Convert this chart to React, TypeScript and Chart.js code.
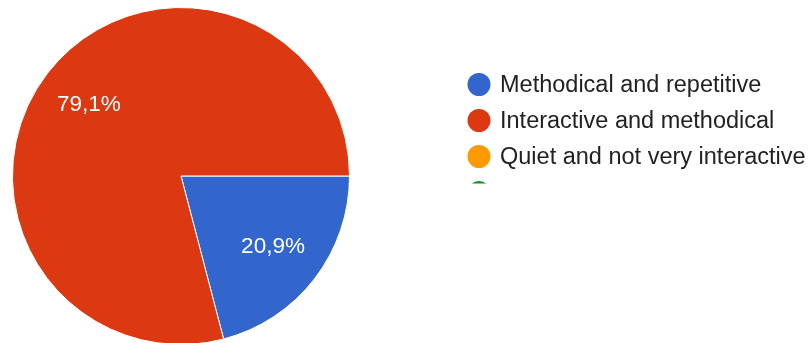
import React, { useEffect, useRef } from "react";
import { Chart, registerables } from "chart.js";

Chart.register(...registerables);

const categories = [
  "Methodical and repetitive",
  "Interactive and methodical",
  "Quiet and not very interactive",
  "Other",
];
const responses = [9, 34, 0, 0];
const sliceColors = ["#3366CC", "#DC3912", "#FF9900", "#109618"];

const FONT = "Arial, 'Liberation Sans', sans-serif";

const sliceLabelPlugin = {
  id: "sliceLabels",
  afterDatasetsDraw(chart: any) {
    const ctx = chart.ctx;
    const meta = chart.getDatasetMeta(0);
    const data = chart.data.datasets[0].data as number[];
    const total = data.reduce((a, b) => a + b, 0);
    ctx.save();
    ctx.fillStyle = "#ffffff";
    ctx.font = `22.5px ${FONT}`;
    ctx.textAlign = "center";
    ctx.textBaseline = "middle";
    meta.data.forEach((arc: any, i: number) => {
      const v = data[i];
      if (!v) return;
      const { x, y, startAngle, endAngle, outerRadius } = arc.getProps(
        ["x", "y", "startAngle", "endAngle", "outerRadius"],
        true
      );
      const mid = (startAngle + endAngle) / 2;
      const r = outerRadius * 0.69;
      const txt = ((v / total) * 100).toFixed(1).replace(".", ",") + "%";
      ctx.fillText(txt, x + Math.cos(mid) * r, y + Math.sin(mid) * r);
    });
    ctx.restore();
  },
};

const LEGEND_CLIP = 183.5;

const sideLegendPlugin = {
  id: "sideLegend",
  afterDraw(chart: any) {
    const ctx = chart.ctx;
    const labels = chart.data.labels as string[];
    const colors = chart.data.datasets[0].backgroundColor as string[];
    ctx.save();
    ctx.beginPath();
    ctx.rect(440, 0, 368, LEGEND_CLIP);
    ctx.clip();
    ctx.font = `23.5px ${FONT}`;
    ctx.textAlign = "left";
    ctx.textBaseline = "alphabetic";
    labels.forEach((lab, i) => {
      const cy = 84.5 + i * 36;
      ctx.beginPath();
      ctx.arc(479, cy, 11.5, 0, Math.PI * 2);
      ctx.fillStyle = colors[i];
      ctx.fill();
      if (cy + 7 < LEGEND_CLIP) {
        ctx.fillStyle = "#222222";
        ctx.fillText(lab, 500, cy + 7);
      }
    });
    ctx.restore();
  },
};

export default function App() {
  const ref = useRef<HTMLCanvasElement | null>(null);
  useEffect(() => {
    document.body.style.margin = "0";
    const chart = new Chart(ref.current as HTMLCanvasElement, {
      type: "pie",
      data: {
        labels: categories,
        datasets: [
          {
            data: responses,
            backgroundColor: sliceColors,
            borderColor: "#ffffff",
            borderWidth: 1,
          },
        ],
      },
      options: {
        responsive: false,
        animation: false,
        devicePixelRatio: 1,
        rotation: 90,
        layout: { padding: { left: 12, top: 7, right: 458, bottom: 8 } },
        plugins: {
          legend: { display: false },
          tooltip: { enabled: false },
        },
      },
      plugins: [sliceLabelPlugin, sideLegendPlugin],
    });
    return () => chart.destroy();
  }, []);
  return (
    <div
      style={{
        position: "absolute",
        left: 0,
        top: 0,
        width: 808,
        height: 343,
        overflow: "hidden",
        background: "#ffffff",
      }}
    >
      <canvas ref={ref} width={808} height={353} style={{ display: "block" }} />
    </div>
  );
}
